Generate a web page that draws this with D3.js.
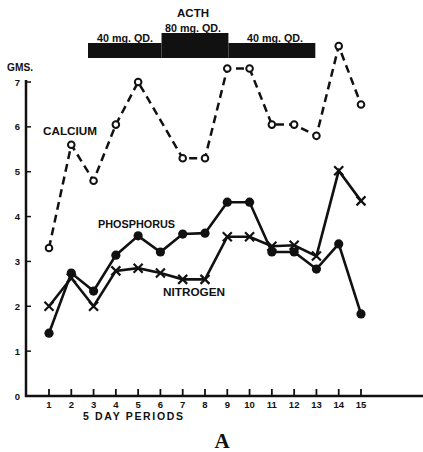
<!DOCTYPE html>
<meta charset="utf-8">
<html>
<head>
    <title>ACTH chart A</title>
    <script src="https://cdn.jsdelivr.net/npm/d3@7"></script>
</head>
<style>
    body{ margin:0; background:#fff; }
    svg{ display:block; }
    text{
        font-family: "Liberation Sans", Arial, sans-serif;
        font-weight: bold;
        fill: #111;
    }
</style>
<body>
<svg width="423" height="452"></svg>
<script>
    // 5 day periods
    const periods = d3.range(1, 16)
    // grams per period (null = no value)
    const calcium    = [3.3, 5.6, 4.8, 6.05, 7.0, null, 5.3, 5.3, 7.3, 7.3, 6.05, 6.05, 5.8, 7.8, 6.5]
    const phosphorus = [1.4, 2.74, 2.34, 3.14, 3.57, 3.21, 3.61, 3.63, 4.32, 4.32, 3.21, 3.21, 2.83, 3.39, 1.83]
    const nitrogen   = [2.0, 2.63, 2.0, 2.79, 2.85, 2.74, 2.6, 2.6, 3.55, 3.55, 3.34, 3.36, 3.12, 5.02, 4.35]
    const yTicks = [0, 1, 2, 3, 4, 5, 6, 7]
    // ACTH dosage bar (period span, dose)
    const acth = [
        {from: 2.75, to: 6.05, dose: 40, label: "40 mg. QD."},
        {from: 6.05, to: 9.05, dose: 80, label: "80 mg. QD."},
        {from: 9.05, to: 12.95, dose: 40, label: "40 mg. QD."}
    ]

    const svg = d3.select("svg")
    const x = d3.scaleLinear().domain([1, 15]).range([49, 361])
    const y = d3.scaleLinear().domain([0, 7]).range([396, 82])
    const ink = "#111"

    // ***************************************
    //        axes
    // ***************************************
    svg.append("line")
        .attr("x1", 26).attr("x2", 26)
        .attr("y1", y(0) + 1).attr("y2", y(7) - 2)
        .attr("stroke", ink).attr("stroke-width", 2.5)
    svg.append("line")
        .attr("x1", 25).attr("x2", 423)
        .attr("y1", y(0)).attr("y2", y(0))
        .attr("stroke", ink).attr("stroke-width", 2.5)

    const yAxis = svg.append("g")
    yAxis.selectAll("line").data(yTicks.slice(1)).enter().append("line")
        .attr("x1", 26).attr("x2", 31)
        .attr("y1", d => y(d)).attr("y2", d => y(d))
        .attr("stroke", ink).attr("stroke-width", 1.5)
    yAxis.selectAll("text").data(yTicks).enter().append("text")
        .attr("x", 20).attr("y", d => y(d) + 3.5)
        .attr("text-anchor", "end")
        .style("font-size", "9.5px")
        .text(d => d)
    svg.append("text")
        .attr("x", 7).attr("y", 71)
        .attr("textLength", 26).attr("lengthAdjust", "spacingAndGlyphs")
        .style("font-size", "10px")
        .text("GMS.")

    const xAxis = svg.append("g")
    xAxis.selectAll("line").data(periods).enter().append("line")
        .attr("x1", d => x(d)).attr("x2", d => x(d))
        .attr("y1", y(0) - 7).attr("y2", y(0))
        .attr("stroke", ink).attr("stroke-width", 1.8)
    xAxis.selectAll("text").data(periods).enter().append("text")
        .attr("x", d => x(d)).attr("y", 407.5)
        .attr("text-anchor", "middle")
        .style("font-size", "9.5px")
        .text(d => d)
    svg.append("text")
        .attr("x", 83).attr("y", 419.5)
        .attr("textLength", 100).attr("lengthAdjust", "spacing")
        .style("font-size", "10.5px")
        .text("5 DAY PERIODS")

    // ***************************************
    //        ACTH bar
    // ***************************************
    svg.selectAll(".acth").data(acth).enter().append("rect")
        .attr("class", "acth")
        .attr("x", d => x(d.from))
        .attr("width", d => x(d.to) - x(d.from))
        .attr("y", d => d.dose === 80 ? 33 : 43)
        .attr("height", d => d.dose === 80 ? 25 : 15)
        .attr("fill", ink)
    svg.selectAll(".dose").data(acth).enter().append("text")
        .attr("class", "dose")
        .attr("x", (d, i) => [97, 165, 247][i])
        .attr("y", d => d.dose === 80 ? 32 : 42)
        .attr("textLength", 56).attr("lengthAdjust", "spacingAndGlyphs")
        .style("font-size", "11px")
        .text(d => d.label)
    svg.append("text")
        .attr("x", 177).attr("y", 17)
        .attr("textLength", 32).attr("lengthAdjust", "spacingAndGlyphs")
        .style("font-size", "10.5px")
        .text("ACTH")

    // ***************************************
    //        series
    // ***************************************
    const pts = vals => periods.map((p, i) => ({p: p, v: vals[i]})).filter(d => d.v !== null)
    const line = d3.line().x(d => x(d.p)).y(d => y(d.v))

    svg.append("path").datum(pts(calcium))
        .attr("d", line).attr("fill", "none")
        .attr("stroke", ink).attr("stroke-width", 2.5)
        .attr("stroke-dasharray", "8,5")
    svg.append("path").datum(pts(phosphorus))
        .attr("d", line).attr("fill", "none")
        .attr("stroke", ink).attr("stroke-width", 2.6)
    svg.append("path").datum(pts(nitrogen))
        .attr("d", line).attr("fill", "none")
        .attr("stroke", ink).attr("stroke-width", 2.6)

    svg.selectAll(".ca").data(pts(calcium)).enter().append("circle")
        .attr("cx", d => x(d.p)).attr("cy", d => y(d.v)).attr("r", 3.3)
        .attr("fill", "#fff").attr("stroke", ink).attr("stroke-width", 2)
    svg.selectAll(".ph").data(pts(phosphorus)).enter().append("circle")
        .attr("cx", d => x(d.p)).attr("cy", d => y(d.v)).attr("r", 4.6)
        .attr("fill", ink)
    svg.selectAll(".n").data(pts(nitrogen)).enter().append("path")
        .attr("d", d => {
            const cx = x(d.p), cy = y(d.v), s = 4.5
            return `M${cx - s},${cy - s}L${cx + s},${cy + s}M${cx - s},${cy + s}L${cx + s},${cy - s}`
        })
        .attr("stroke", ink).attr("stroke-width", 2.2)

    // series labels
    svg.append("text").attr("x", 43).attr("y", 134.5)
        .attr("textLength", 54).attr("lengthAdjust", "spacingAndGlyphs")
        .style("font-size", "10.5px").text("CALCIUM")
    svg.append("text").attr("x", 98).attr("y", 227.5)
        .attr("textLength", 77).attr("lengthAdjust", "spacingAndGlyphs")
        .style("font-size", "10.5px").text("PHOSPHORUS")
    svg.append("text").attr("x", 163).attr("y", 295.5)
        .attr("textLength", 62).attr("lengthAdjust", "spacingAndGlyphs")
        .style("font-size", "10.5px").text("NITROGEN")

    svg.append("text")
        .attr("x", 222).attr("y", 448)
        .attr("text-anchor", "middle")
        .style("font-family", "'Liberation Serif', serif")
        .style("font-size", "21px")
        .text("A")
</script>
</body>
</html>
